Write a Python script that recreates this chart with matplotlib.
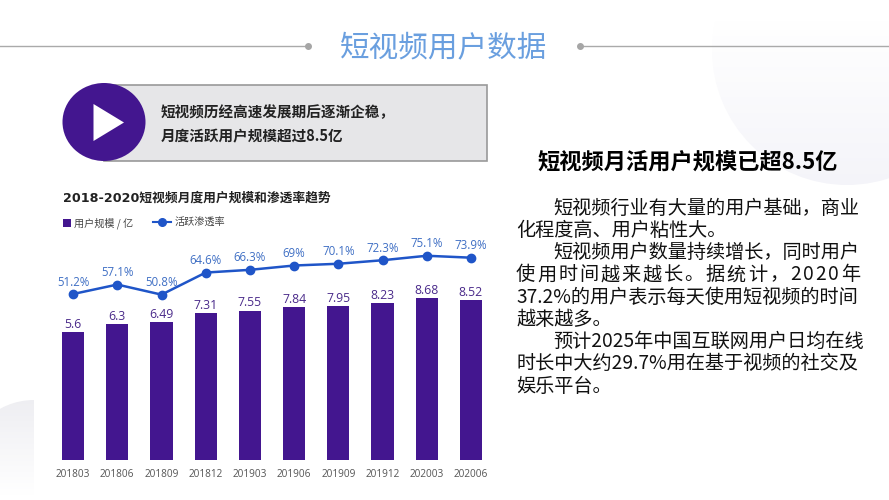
import numpy as np
import matplotlib
matplotlib.use("Agg")
import matplotlib.pyplot as plt
from matplotlib.patches import Circle, Ellipse, Polygon, Rectangle
from matplotlib.lines import Line2D

plt.rcParams['font.family'] = ['Noto Sans CJK SC', 'DejaVu Sans']

W, H = 889, 500

months = ['201803', '201806', '201809', '201812', '201903', '201906', '201909', '201912', '202003', '202006']
users = [5.6, 6.3, 6.49, 7.31, 7.55, 7.84, 7.95, 8.23, 8.68, 8.52]
rates = [51.2, 57.1, 50.8, 64.6, 66.3, 69, 70.1, 72.3, 75.1, 73.9]

title = '短视频用户数据'
callout = ['短视频历经高速发展期后逐渐企稳，', '月度活跃用户规模超过8.5亿']
chart_title = '2018-2020短视频月度用户规模和渗透率趋势'
heading = '短视频月活用户规模已超8.5亿'
body = [
    ('短视频行业有大量的用户基础，商业', 553),
    ('化程度高、用户粘性大。', 516),
    ('短视频用户数量持续增长，同时用户', 553),
    ('使用时间越来越长。据统计，2020年', 516),
    ('37.2%的用户表示每天使用短视频的时间', 516),
    ('越来越多。', 516),
    ('预计2025年中国互联网用户日均在线', 553),
    ('时长中大约29.7%用在基于视频的社交及', 516),
    ('娱乐平台。', 516),
]

PURPLE = '#43168f'
BLUE = '#1f55c8'
LATIN = ['Open Sans', 'DejaVu Sans']


def spaced_text(ax, fig, s, x0, x1, y, **kw):
    # no letter spacing in matplotlib, so place the characters one by one
    r = fig.canvas.get_renderer()
    widths = []
    for c in s:
        t = ax.text(0, 0, c, **kw)
        widths.append(t.get_window_extent(r).width)
        t.remove()
    gap = (x1 - x0 - sum(widths)) / (len(s) - 1)
    x = x0
    for c, w in zip(s, widths):
        ax.text(x, y, c, ha='left', va='center', **kw)
        x += w + gap


fig = plt.figure(figsize=(W / 100, H / 100), dpi=100, facecolor='white')

# page layer in pixel coordinates
bg = fig.add_axes([0, 0, 1, 1], zorder=0)
bg.set_xlim(0, W)
bg.set_ylim(H, 0)
bg.axis('off')

# pale background shapes
grad = np.linspace(0, 1, 100)[:, None]
im = bg.imshow(grad, extent=(700, 889, 190, 20), cmap=matplotlib.colors.LinearSegmentedColormap.from_list('a', ['#ffffff', '#f4f4f9']),
               aspect='auto', zorder=0)
im.set_clip_path(Circle((847, 50), 135, transform=bg.transData))
im2 = bg.imshow(grad[::-1], extent=(0, 34, 495, 398), cmap=matplotlib.colors.LinearSegmentedColormap.from_list('b', ['#ffffff', '#eeeef2']),
                aspect='auto', zorder=0)
im2.set_clip_path(Circle((34, 470), 70, transform=bg.transData))
bg.set_xlim(0, W)
bg.set_ylim(H, 0)

# title row
bg.plot([0, 308], [46, 46], color='#aaaaaa', lw=1)
bg.plot([580, W], [46, 46], color='#aaaaaa', lw=1)
bg.plot([308, 580], [46, 46], ls='none', marker='o', ms=4, color='#a6a6a6')
bg.text(444, 49, title, color='#6a9fdf', fontsize=21.3, ha='center', va='center')

# callout box
bg.add_patch(Rectangle((104, 85), 383, 76, fc='#e6e6e8', ec='#999999', lw=1.2))
bg.add_patch(Ellipse((104, 122), 83, 78, fc=PURPLE, ec='none'))
bg.add_patch(Polygon([(93.5, 104), (93.5, 141), (124, 122.5)], fc='white', ec='none'))
bg.text(161, 112.5, callout[0], fontsize=10.5, color='#222222', ha='left', va='center', weight='bold')
bg.text(161, 136.5, callout[1], fontsize=10.5, color='#222222', ha='left', va='center', weight='bold')

# right column
bg.text(688, 162.5, heading, fontsize=16, color='black', weight='bold', ha='center', va='center')
fig.canvas.draw()
for i, (line, x) in enumerate(body):
    y = 208 + i * 22.25
    if line.startswith('使用时间'):
        spaced_text(bg, fig, line, x, 860, y, fontsize=13.8, color='#111111')
    else:
        bg.text(x, y, line, fontsize=13.8, color='#111111', ha='left', va='center')

bg.text(63, 198, chart_title, fontsize=9.2, color='#222222', weight='bold', ha='left', va='center',
        family=['DejaVu Sans', 'Noto Sans CJK SC'])

# chart, laid out so that the plot area spans these pixels
left, right, top, bottom = 51, 493, 240, 459.7
ax = fig.add_axes([left / W, 1 - bottom / H, (right - left) / W, (bottom - top) / H], zorder=1)
ax.patch.set_alpha(0)
x = np.arange(len(months))
floor = -6
bars = ax.bar(x, np.array(users) - floor, bottom=floor, width=0.5, color=PURPLE)
ax.bar_label(bars, labels=[str(v) for v in users], padding=1, fontsize=8.8, color='#4a2a8a', family=LATIN)
ax.set_xlim(-0.5, len(months) - 0.5)
ax.set_ylim(floor, floor + (bottom - top) / 11)
ax.set_xticks(x, months, fontsize=7.2, color='#555555', family=LATIN)
ax.tick_params(axis='x', length=0, pad=7)
ax.set_yticks([])
for s in ax.spines.values():
    s.set_visible(False)

ax2 = ax.twinx()
ax2.patch.set_alpha(0)
ax2.plot(x, rates, color=BLUE, lw=1.8, marker='o', ms=6)
for xi, r in zip(x, rates):
    ax2.annotate(f'{r:g}%', (xi, r), xytext=(0, 8.6), textcoords='offset points', ha='center', va='center',
                 fontsize=8.3, color='#3f6fc4', family=LATIN)
rate_low = 51.2 - (bottom - 294) / 1.6
ax2.set_ylim(rate_low, rate_low + (bottom - top) / 1.6)
ax2.set_yticks([])
for s in ax2.spines.values():
    s.set_visible(False)

# two legends, the swatch and the line need different handle lengths
fig.legend([Rectangle((0, 0), 1, 1, fc=PURPLE, ec='none')], ['用户规模 / 亿'], loc='center left',
           bbox_to_anchor=(63 / W, 1 - 223 / H), frameon=False, fontsize=7.3, labelcolor='#444444',
           handlelength=0.8, handleheight=0.8, handletextpad=0.3, borderpad=0, borderaxespad=0)
fig.legend([Line2D([], [], color=BLUE, lw=1.5, marker='o', ms=5.5)], ['活跃渗透率'], loc='center left',
           bbox_to_anchor=(153 / W, 1 - 223 / H), frameon=False, fontsize=7.3, labelcolor='#444444',
           handlelength=1.75, handletextpad=0.4, borderpad=0, borderaxespad=0)

fig.savefig('out.png', dpi=100)
